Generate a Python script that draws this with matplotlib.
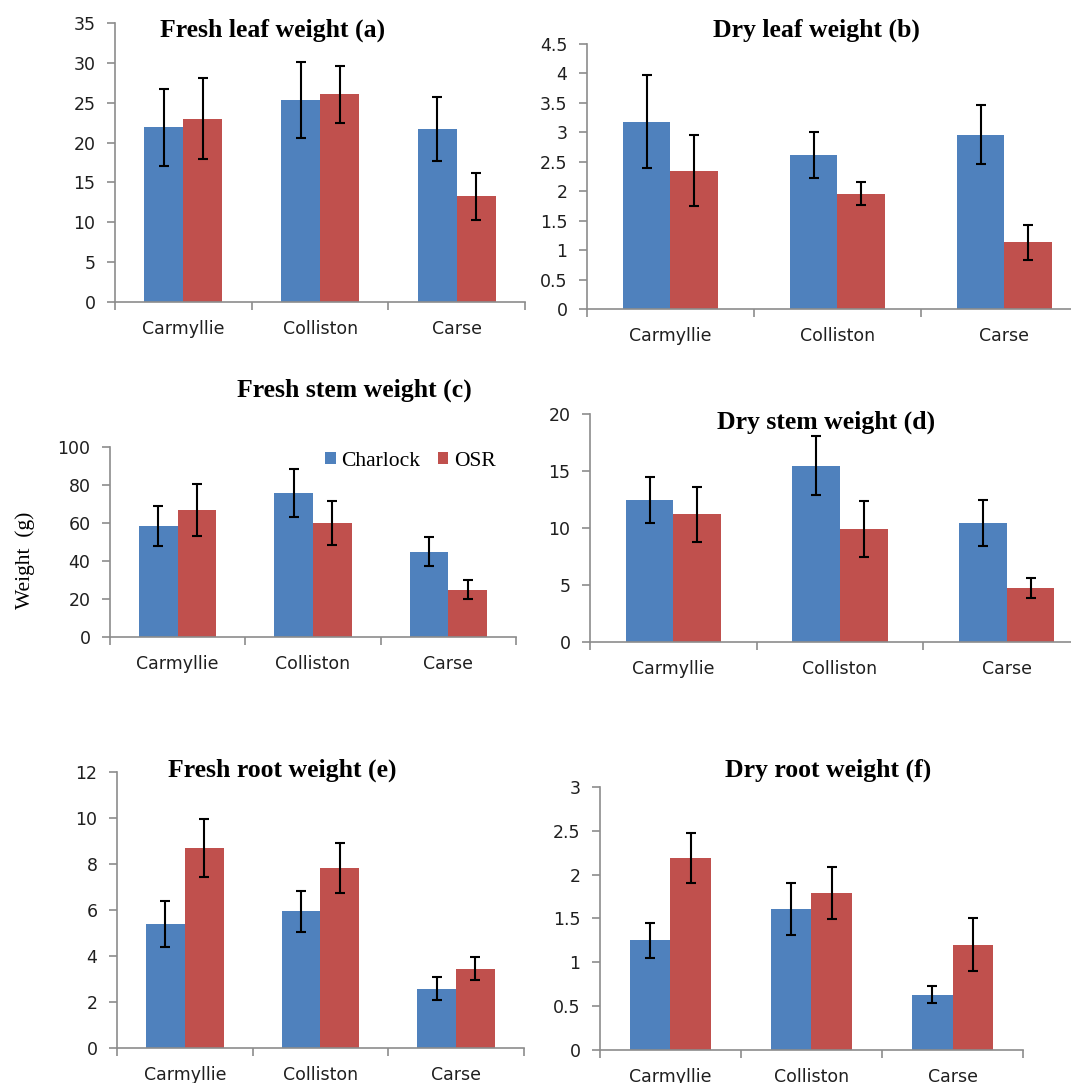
import numpy as np
import matplotlib
matplotlib.use("Agg")
import matplotlib.pyplot as plt

sites = ["Carmyllie", "Colliston", "Carse"]
series = ["Charlock", "OSR"]

# values: (mean, +/- error) per site
fresh_leaf_charlock = [21.9, 25.35, 21.7]
fresh_leaf_charlock_err = [4.85, 4.8, 3.97]
fresh_leaf_osr = [23.0, 26.05, 13.26]
fresh_leaf_osr_err = [5.07, 3.62, 2.99]

dry_leaf_charlock = [3.18, 2.61, 2.96]
dry_leaf_charlock_err = [0.79, 0.39, 0.5]
dry_leaf_osr = [2.35, 1.96, 1.13]
dry_leaf_osr_err = [0.6, 0.195, 0.29]

fresh_stem_charlock = [58.6, 75.9, 44.9]
fresh_stem_charlock_err = [10.5, 12.5, 7.65]
fresh_stem_osr = [66.7, 60.0, 25.0]
fresh_stem_osr_err = [13.6, 11.7, 4.95]

dry_stem_charlock = [12.46, 15.48, 10.44]
dry_stem_charlock_err = [2.0, 2.58, 2.02]
dry_stem_osr = [11.2, 9.94, 4.75]
dry_stem_osr_err = [2.4, 2.47, 0.9]

fresh_root_charlock = [5.39, 5.94, 2.57]
fresh_root_charlock_err = [1.0, 0.9, 0.5]
fresh_root_osr = [8.7, 7.83, 3.44]
fresh_root_osr_err = [1.28, 1.09, 0.5]

dry_root_charlock = [1.25, 1.61, 0.63]
dry_root_charlock_err = [0.2, 0.3, 0.097]
dry_root_osr = [2.19, 1.79, 1.2]
dry_root_osr_err = [0.29, 0.295, 0.3]

BLUE = "#4F81BD"
RED = "#C0504D"
AXC = "#8C8C8C"
TXT = "#1f1f1f"
SERIF = "Liberation Serif"

fig = plt.figure(figsize=(10.71, 10.83), dpi=100)


def panel(rect, title, tpos, ch, ch_err, osr, osr_err, ymax, ystep):
    ax = fig.add_axes(rect)
    x = np.arange(len(sites)) + 0.5
    w = 1 / 3.5
    b1 = ax.bar(x - w / 2, ch, w, color=BLUE, label=series[0])
    b2 = ax.bar(x + w / 2, osr, w, color=RED, label=series[1])
    ax.errorbar(x - w / 2, ch, yerr=ch_err, fmt="none", ecolor="black",
                elinewidth=1.5, capsize=3.5, capthick=1.5)
    ax.errorbar(x + w / 2, osr, yerr=osr_err, fmt="none", ecolor="black",
                elinewidth=1.5, capsize=3.5, capthick=1.5)
    ax.set_xlim(0, 3)
    ax.set_ylim(0, ymax)
    ticks = np.arange(0, ymax + ystep / 2, ystep)
    ax.set_yticks(ticks)
    ax.set_yticklabels(["%g" % t for t in ticks])
    ax.set_xticks([0, 1, 2, 3])
    ax.set_xticklabels([])
    ax.set_xticks(x, minor=True)
    ax.set_xticklabels(sites, minor=True)
    ax.tick_params(axis="x", which="minor", length=0, pad=13,
                   labelsize=12.5, labelcolor=TXT)
    ax.tick_params(axis="x", which="major", length=6, color=AXC, width=1.2)
    ax.tick_params(axis="y", length=6, color=AXC, width=1.2, pad=8,
                   labelsize=12.5, labelcolor=TXT)
    for s in ["top", "right"]:
        ax.spines[s].set_visible(False)
    for s in ["left", "bottom"]:
        ax.spines[s].set_color(AXC)
        ax.spines[s].set_linewidth(1.2)
    ax.text(tpos[0], tpos[1], title, transform=ax.transAxes, ha="center",
            va="center", family=SERIF, weight="bold", fontsize=18.5,
            clip_on=False)
    return ax, b1, b2


panel([0.1074, 0.7211, 0.383, 0.2576], "Fresh leaf weight (a)", (0.383, 0.975),
      fresh_leaf_charlock, fresh_leaf_charlock_err, fresh_leaf_osr, fresh_leaf_osr_err,
      35, 5)
panel([0.548, 0.7147, 0.4678, 0.2447], "Dry leaf weight (b)", (0.459, 1.053),
      dry_leaf_charlock, dry_leaf_charlock_err, dry_leaf_osr, dry_leaf_osr_err,
      4.5, 0.5)
axc, h1, h2 = panel([0.1027, 0.4118, 0.379, 0.1754], "Fresh stem weight (c)", (0.603, 1.30),
                    fresh_stem_charlock, fresh_stem_charlock_err, fresh_stem_osr,
                    fresh_stem_osr_err, 100, 20)
panel([0.5509, 0.4072, 0.4669, 0.2105], "Dry stem weight (d)", (0.472, 0.965),
      dry_stem_charlock, dry_stem_charlock_err, dry_stem_osr, dry_stem_osr_err,
      20, 5)
panel([0.1092, 0.0323, 0.380, 0.2548], "Fresh root weight (e)", (0.405, 1.007),
      fresh_root_charlock, fresh_root_charlock_err, fresh_root_osr, fresh_root_osr_err,
      12, 2)
panel([0.5602, 0.0305, 0.395, 0.2428], "Dry root weight (f)", (0.539, 1.065),
      dry_root_charlock, dry_root_charlock_err, dry_root_osr, dry_root_osr_err,
      3, 0.5)

axc.legend([h1, h2], series, loc="center", bbox_to_anchor=(0.74, 0.925),
           ncol=2, frameon=False, handlelength=0.5, handleheight=0.5,
           handletextpad=0.25, columnspacing=0.8,
           prop={"family": SERIF, "size": 15.5})

fig.text(0.023, 0.483, "Weight  (g)", rotation=90, ha="center", va="center",
         family=SERIF, fontsize=15.5)

fig.savefig("out.png", dpi=100)
